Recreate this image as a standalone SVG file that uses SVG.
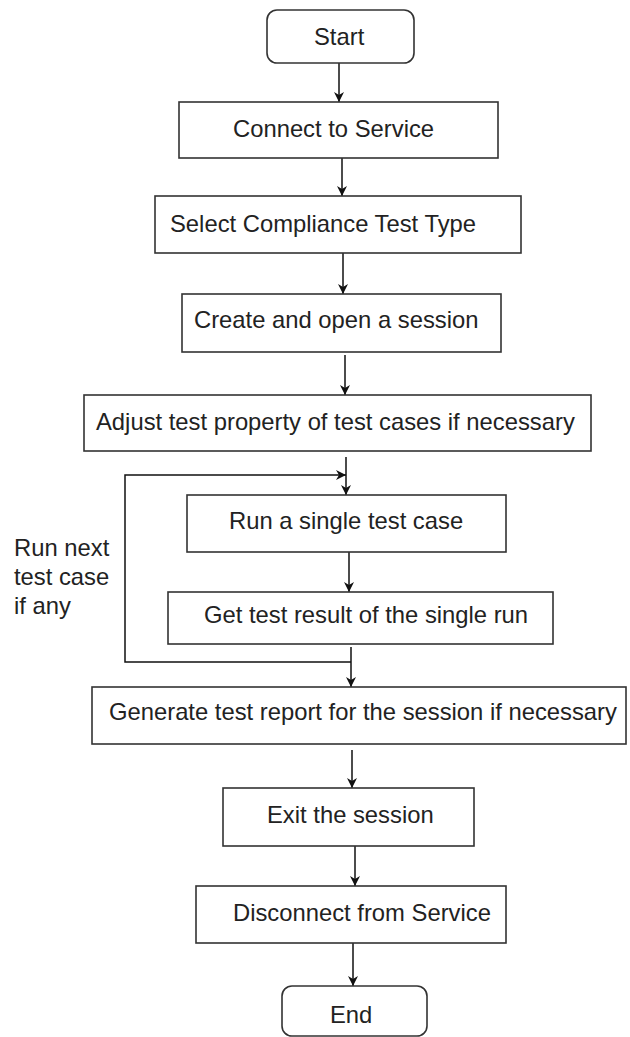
<svg xmlns="http://www.w3.org/2000/svg" width="630" height="1037" viewBox="0 0 630 1037">
<defs>
<style>
.box{fill:#fff;stroke:#333;stroke-width:1.6}
.t{font-family:"Liberation Sans",Arial,sans-serif;font-size:23.8px;fill:#222}
.c{fill:none;stroke:#111;stroke-width:1.5}
</style>
<marker id="ah" viewBox="0 0 10 10" refX="10" refY="5" markerWidth="10" markerHeight="10" markerUnits="userSpaceOnUse" orient="auto">
<path d="M0,0 L10,5 L0,10 L3,5 z" fill="#111"/>
</marker>
</defs>
<rect width="630" height="1037" fill="#fff"/>
<g id="connectors">
<path class="c" d="M339,63 V102" marker-end="url(#ah)"/>
<path class="c" d="M342,158 V196" marker-end="url(#ah)"/>
<path class="c" d="M343,253 V294" marker-end="url(#ah)"/>
<path class="c" d="M345,355 V395" marker-end="url(#ah)"/>
<path class="c" d="M346,457 V495" marker-end="url(#ah)"/>
<path class="c" d="M351,662 H125 V475 H346" marker-end="url(#ah)"/>
<path class="c" d="M349,552 V592" marker-end="url(#ah)"/>
<path class="c" d="M351,647 V687" marker-end="url(#ah)"/>
<path class="c" d="M352,750 V788" marker-end="url(#ah)"/>
<path class="c" d="M355,846 V886" marker-end="url(#ah)"/>
<path class="c" d="M353,943 V986" marker-end="url(#ah)"/>
</g>
<g id="start"><rect class="box" x="267" y="10" width="147" height="53" rx="10"/><text class="t" x="314" y="45">Start</text></g>
<g id="connect"><rect class="box" x="179" y="102" width="319" height="56"/><text class="t" x="233" y="137">Connect to Service</text></g>
<g id="select"><rect class="box" x="155" y="196" width="366" height="57"/><text class="t" x="170" y="232">Select Compliance Test Type</text></g>
<g id="create"><rect class="box" x="182" y="294" width="319" height="58"/><text class="t" x="194" y="328">Create and open a session</text></g>
<g id="adjust"><rect class="box" x="84" y="395" width="507" height="56"/><text class="t" x="96" y="430">Adjust test property of test cases if necessary</text></g>
<g id="run"><rect class="box" x="187" y="495" width="319" height="57"/><text class="t" x="229" y="529">Run a single test case</text></g>
<g id="get"><rect class="box" x="168" y="592" width="385" height="52"/><text class="t" x="204" y="623">Get test result of the single run</text></g>
<g id="loop-label"><text class="t" x="14" y="556">Run next</text><text class="t" x="14" y="585">test case</text><text class="t" x="14" y="614">if any</text></g>
<g id="generate"><rect class="box" x="92" y="687" width="534" height="57"/><text class="t" x="109" y="720">Generate test report for the session if necessary</text></g>
<g id="exit"><rect class="box" x="223" y="788" width="251" height="58"/><text class="t" x="267" y="823">Exit the session</text></g>
<g id="disconnect"><rect class="box" x="196" y="886" width="310" height="57"/><text class="t" x="233" y="921">Disconnect from Service</text></g>
<g id="end"><rect class="box" x="282" y="986" width="145" height="50" rx="10"/><text class="t" x="330" y="1023">End</text></g>
</svg>
